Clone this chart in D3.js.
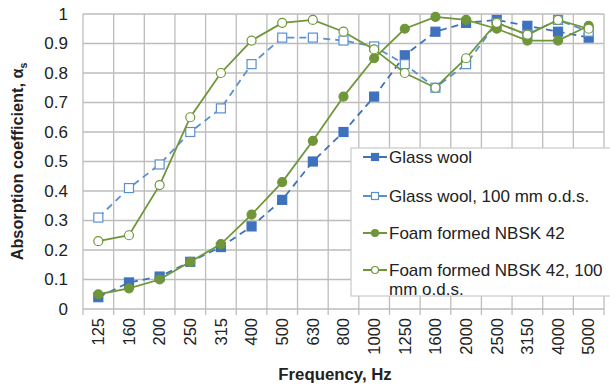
<!DOCTYPE html>
<html><head><meta charset="utf-8">
<script src="https://cdn.jsdelivr.net/npm/d3@7"></script>
<style>body{margin:0;background:#fff;} svg{display:block;font-family:"Liberation Sans",Arial,sans-serif;}</style>
</head><body><svg id="c" width="610" height="388"></svg>
<script>
const categories = ["125","160","200","250","315","400","500","630","800","1000","1250","1600","2000","2500","3150","4000","5000"];
const glassWool = [0.04,0.09,0.11,0.16,0.21,0.28,0.37,0.50,0.60,0.72,0.86,0.94,0.97,0.98,0.96,0.94,0.92];
const glassWoolODS = [0.31,0.41,0.49,0.60,0.68,0.83,0.92,0.92,0.91,0.89,0.83,0.75,0.83,0.97,0.93,0.98,0.94];
const foam = [0.05,0.07,0.10,0.16,0.22,0.32,0.43,0.57,0.72,0.85,0.95,0.99,0.98,0.95,0.91,0.91,0.96];
const foamODS = [0.23,0.25,0.42,0.65,0.80,0.91,0.97,0.98,0.94,0.88,0.80,0.75,0.85,0.97,0.93,0.98,0.95];
const yTicks = [0,0.1,0.2,0.3,0.4,0.5,0.6,0.7,0.8,0.9,1];
const seriesNames = ["Glass wool","Glass wool, 100 mm o.d.s.","Foam formed NBSK 42","Foam formed NBSK 42, 100 mm o.d.s."];

const blue="#3f72bd", blueLight="#5b8fd0", green="#70963a";
const series = [
  {name:seriesNames[0], values:glassWool, color:blue, dash:"7,5", marker:"square", filled:true},
  {name:seriesNames[1], values:glassWoolODS, color:blueLight, dash:"7,5", marker:"square", filled:false},
  {name:seriesNames[2], values:foam, color:green, dash:null, marker:"circle", filled:true},
  {name:seriesNames[3], values:foamODS, color:green, dash:null, marker:"circle", filled:false}
];

const svg = d3.select("#c");
const m = {l:83, r:604, t:14, b:309};
const x = d3.scaleBand().domain(categories).range([m.l, m.r]);
const y = d3.scaleLinear().domain([0,1]).range([m.b, m.t]);
const grid = "#bdbdbd";

svg.append("g").selectAll("line").data(yTicks).join("line")
  .attr("x1", m.l).attr("x2", m.r)
  .attr("y1", d=>y(d)).attr("y2", d=>y(d))
  .attr("stroke", grid).attr("stroke-width",1.3);
const bounds = categories.map(c=>x(c)).concat([m.r]);
svg.append("g").selectAll("line").data(bounds).join("line")
  .attr("x1", d=>d).attr("x2", d=>d)
  .attr("y1", m.t).attr("y2", m.b+6)
  .attr("stroke", grid).attr("stroke-width",1.3);

svg.append("g").selectAll("text").data(yTicks).join("text")
  .attr("x", 68).attr("y", d=>y(d)).attr("dy","0.35em")
  .attr("text-anchor","end").attr("font-size",17).attr("fill","#222")
  .text(d=>d===0?"0":d===1?"1":d3.format(".1f")(d));
svg.append("g").selectAll("text").data(categories).join("text")
  .attr("transform", d=>`translate(${x(d)+x.bandwidth()/2},318) rotate(-90)`)
  .attr("dy","0.35em").attr("text-anchor","end").attr("font-size",16.5).attr("fill","#222")
  .text(d=>d);

svg.append("text").attr("x", 335).attr("y", 380).attr("text-anchor","middle")
  .attr("font-weight","bold").attr("font-size",16.8).attr("fill","#222").text("Frequency, Hz");
const yt = svg.append("text").attr("transform", `translate(23,${(m.t+m.b)/2}) rotate(-90)`)
  .attr("text-anchor","middle").attr("font-weight","bold").attr("font-size",16.3).attr("fill","#222");
yt.append("tspan").text("Absorption coefficient, α");
yt.append("tspan").attr("font-size",10.5).attr("dy",4).text("s");

const line = d3.line().x((d,i)=>x(categories[i])+x.bandwidth()/2).y(d=>y(d));
function drawMarker(g, s, cx, cy, size){
  if(s.marker==="square"){
    g.append("rect").attr("x",cx-size/2).attr("y",cy-size/2).attr("width",size).attr("height",size)
     .attr("fill", s.filled?s.color:"#fff").attr("stroke", s.color).attr("stroke-width",1.2);
  } else {
    g.append("circle").attr("cx",cx).attr("cy",cy).attr("r",size/2)
     .attr("fill", s.filled?s.color:"#fff").attr("stroke", s.color).attr("stroke-width",1.2);
  }
}
series.forEach(s=>{
  const g = svg.append("g");
  g.append("path").datum(s.values).attr("d", line).attr("fill","none")
    .attr("stroke", s.color).attr("stroke-width",1.8).attr("stroke-dasharray", s.dash);
  s.values.forEach((v,i)=>drawMarker(g, s, x(categories[i])+x.bandwidth()/2, y(v), 9));
});

const lg = svg.append("g");
lg.append("rect").attr("x",351).attr("y",148).attr("width",265).attr("height",148)
  .attr("fill","#fff").attr("stroke","#c8c8c8").attr("stroke-width",1.2);
const ly = [157,196,233,270];
series.forEach((s,i)=>{
  lg.append("line").attr("x1",363).attr("x2",387).attr("y1",ly[i]).attr("y2",ly[i])
    .attr("stroke", s.color).attr("stroke-width",2);
  drawMarker(lg, s, 375, ly[i], 7);
  const t = lg.append("text").attr("x",389).attr("y",ly[i]).attr("dy","0.35em")
    .attr("font-size",17).attr("fill","#222");
  if(i===3){
    t.text("Foam formed NBSK 42, 100");
    lg.append("text").attr("x",389).attr("y",ly[i]+19).attr("dy","0.35em")
      .attr("font-size",17).attr("fill","#222").text("mm o.d.s.");
  } else t.text(s.name);
});
</script></body></html>
